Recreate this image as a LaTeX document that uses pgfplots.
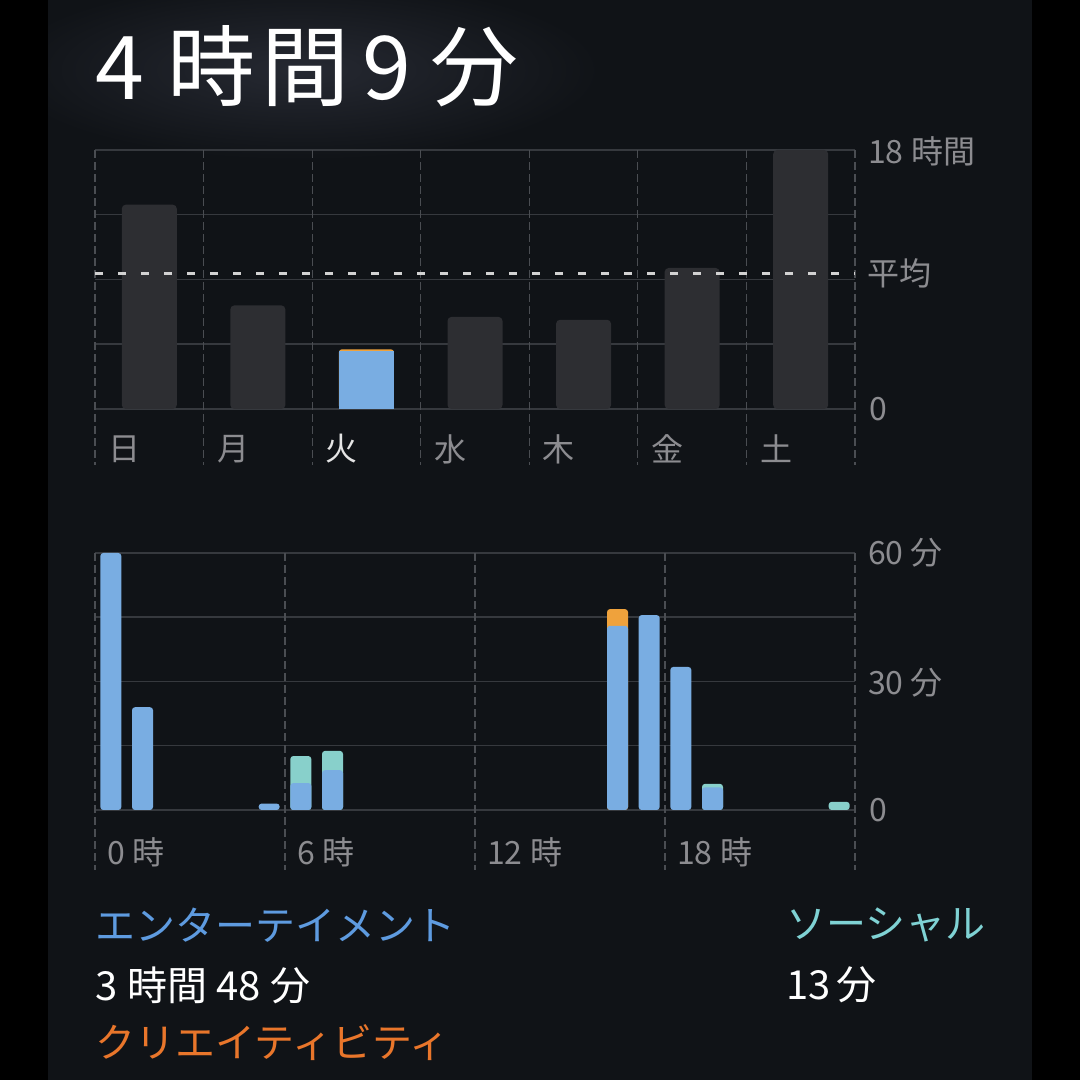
\documentclass[border=0pt]{standalone}
\usepackage{fontspec}
\setmainfont{Noto Sans CJK JP}
\usepackage{pgfplots}
\pgfplotsset{compat=1.18}
\definecolor{panel}{HTML}{101317}
\definecolor{glow}{HTML}{262932}
\definecolor{hgrid}{HTML}{36393E}
\definecolor{vgrid}{HTML}{4A4D52}
\definecolor{graybar}{HTML}{2D2E32}
\definecolor{ent}{HTML}{79ADE2}
\definecolor{soc}{HTML}{88D0CB}
\definecolor{cre}{HTML}{EFA23C}
\definecolor{lbl}{HTML}{8C8C90}
\definecolor{enttxt}{HTML}{5E9BE0}
\definecolor{soctxt}{HTML}{7FD2D4}
\definecolor{cretxt}{HTML}{E9762B}
\definecolor{avg}{HTML}{D2D2D2}
\newcommand{\fs}[1]{\fontsize{#1}{#1}\selectfont}
\begin{document}
\begin{tikzpicture}[x=1pt,y=1pt]
\useasboundingbox (0,0) rectangle (1080,1080);
\fill[black] (0,0) rectangle (1080,1080);
\fill[panel] (48,0) rectangle (1032,1080);
\begin{scope}
\clip (48,0) rectangle (1032,1080);
\shade[inner color=glow, outer color=panel] (300,1010) ellipse (300 and 90);
\end{scope}

% ---------- weekly chart ----------
\begin{axis}[at={(95pt,671pt)}, anchor=south west, scale only axis,
  width=760pt, height=259pt,
  xmin=0, xmax=7, ymin=0, ymax=18,
  axis line style={draw=none}, tick style={draw=none},
  xtick=\empty, ytick={0,4.5,9,13.5,18}, yticklabels={},
  ymajorgrids, y grid style={hgrid, line width=1.5pt},
  clip=false]
\pgfplotsinvokeforeach{0,...,7}{
  \draw[vgrid, line width=1.1pt, dash pattern=on 8pt off 4pt]
    (axis cs:#1,18) -- ([yshift=-56pt]axis cs:#1,0);
}
\addplot[ybar, bar width=55pt, bar shift=0pt, fill=graybar, draw=none, rounded corners=4pt]
  coordinates {(0.5,14.2) (1.5,7.2) (3.5,6.4) (4.5,6.2) (5.5,9.8) (6.5,18.0)};
% Tuesday: total (creativity on top), then entertainment + social
\addplot[ybar, bar width=55pt, bar shift=0pt, fill=cre, draw=none, rounded corners=3pt]
  coordinates {(2.5,4.15)};
\addplot[ybar, bar width=55pt, bar shift=0pt, fill=ent, draw=none]
  coordinates {(2.5,4.02)};
% average
\addplot[avg, line width=3.5pt, dash pattern=on 8pt off 15pt] coordinates {(0,9.42) (7,9.42)};
\end{axis}

% ---------- hourly chart ----------
\begin{axis}[at={(95pt,270pt)}, anchor=south west, scale only axis,
  width=760pt, height=257pt,
  xmin=0, xmax=24, ymin=0, ymax=60,
  axis line style={draw=none}, tick style={draw=none},
  xtick=\empty, ytick={0,15,30,45,60}, yticklabels={},
  ymajorgrids, y grid style={hgrid, line width=1.5pt},
  clip=false]
\pgfplotsinvokeforeach{0,6,12,18,24}{
  \draw[vgrid, line width=1.1pt, dash pattern=on 8pt off 4pt]
    (axis cs:#1,60) -- ([yshift=-60pt]axis cs:#1,0);
}
% creativity on top (totals)
\addplot[ybar, bar width=21pt, bar shift=0pt, fill=cre, draw=none, rounded corners=3pt]
  coordinates {(16.5,46.9)};
% social on top (totals of entertainment + social)
\addplot[ybar, bar width=21pt, bar shift=0pt, fill=soc, draw=none, rounded corners=3pt]
  coordinates {(6.5,12.6) (7.5,13.8) (19.5,6.1) (23.5,1.9)};
% entertainment
\addplot[ybar, bar width=21pt, bar shift=0pt, fill=ent, draw=none, rounded corners=3pt]
  coordinates {(0.5,60) (1.5,24) (5.5,1.5) (6.5,6.3) (7.5,9.3) (16.5,43) (17.5,45.5) (18.5,33.4) (19.5,5.3)};
\end{axis}

% ---------- text ----------
\tikzset{lab/.style={inner sep=0pt, anchor=west, text=lbl, font=\fs{32}}}
\node[inner sep=0pt, anchor=base west, text=white, font=\fs{88}] at (95,980)
  {4\hspace{23pt}時\hspace{7pt}間\hspace{12pt}9\hspace{20pt}分};

\node[lab] at (108,631) {日};
\node[lab] at (217,631) {月};
\node[lab, text=white!80!gray] at (325,631) {火};
\node[lab] at (434,631) {水};
\node[lab] at (542,631) {木};
\node[lab] at (651,631) {金};
\node[lab] at (760,631) {土};

\node[lab] at (868,929) {18\hspace{8pt}時間};
\node[lab] at (867,807) {平均};
\node[lab] at (869,671) {0};

\node[lab] at (107,228) {0\hspace{8pt}時};
\node[lab] at (297,228) {6\hspace{8pt}時};
\node[lab] at (487,228) {12\hspace{8pt}時};
\node[lab] at (677,228) {18\hspace{8pt}時};

\node[lab] at (868,527) {60\hspace{7pt}分};
\node[lab] at (868,397) {30\hspace{7pt}分};
\node[lab] at (869,270) {0};

\tikzset{leg/.style={inner sep=0pt, anchor=west, font=\fs{40}}}
\node[leg, text=enttxt] at (95,155) {エンターテイメント};
\node[leg, text=white] at (95,95) {3\hspace{10pt}時間\hspace{9pt}48\hspace{10pt}分};
\node[leg, text=cretxt] at (95,37) {クリエイティビティ};
\node[leg, text=soctxt] at (786,155) {ソーシャル};
\node[leg, text=white] at (786,95) {13\hspace{6pt}分};
\end{tikzpicture}
\end{document}
